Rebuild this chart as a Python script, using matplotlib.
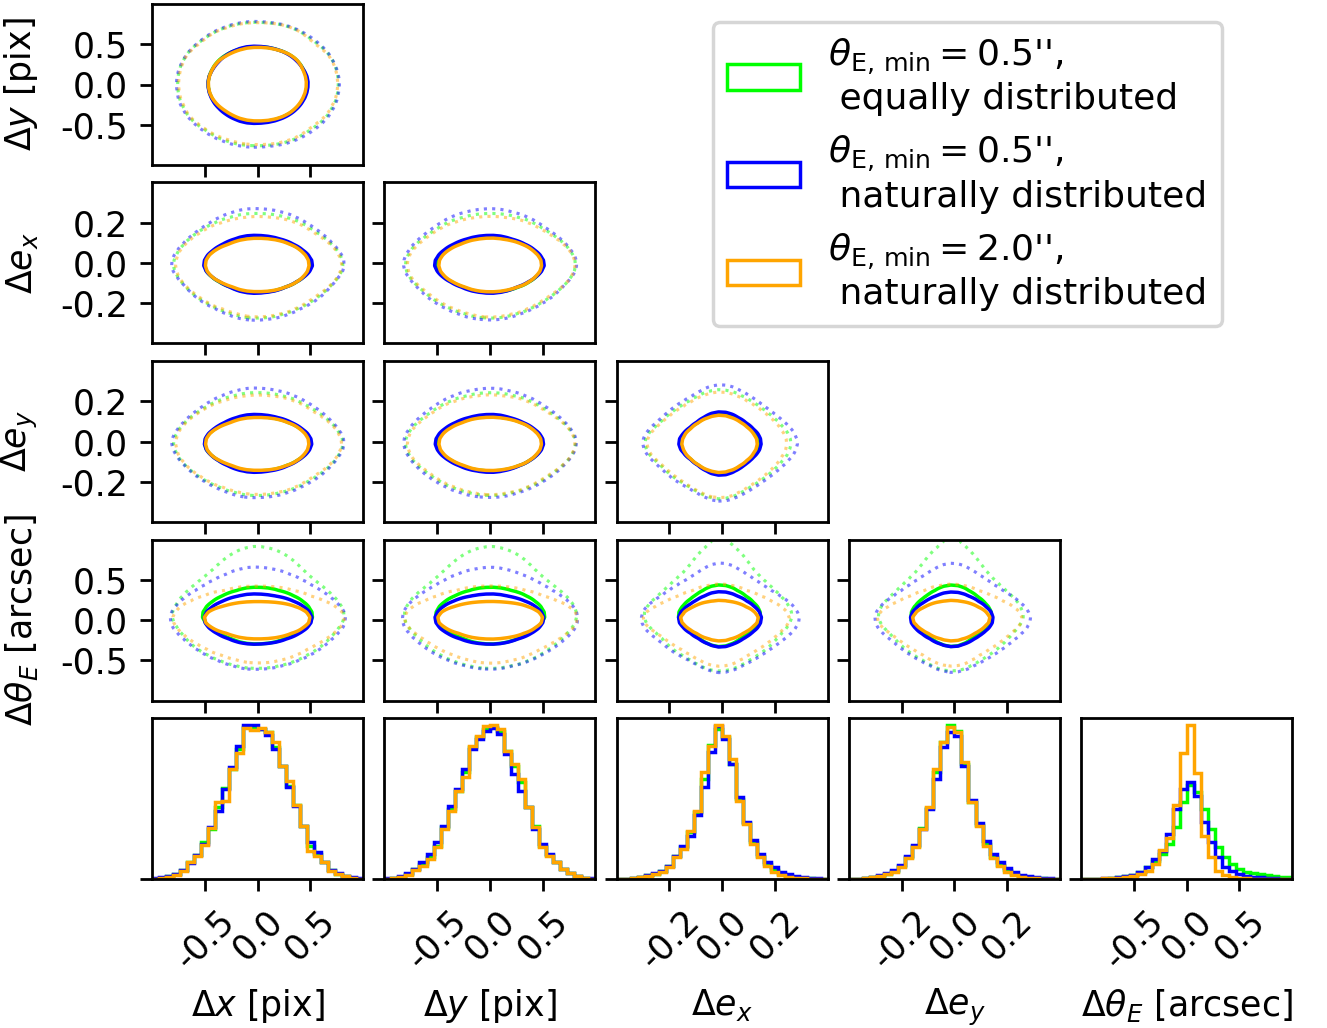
import numpy as np
import matplotlib
matplotlib.use("Agg")
import matplotlib.pyplot as plt
from matplotlib.patches import Patch

# parameters, axis ranges and ticks
labels = [r"$\Delta x$ [pix]", r"$\Delta y$ [pix]", r"$\Delta e_x$",
          r"$\Delta e_y$", r"$\Delta \theta_E$ [arcsec]"]
ranges = [(-1, 1), (-1, 1), (-0.4, 0.4), (-0.4, 0.4), (-1, 1)]
ticks = [[-0.5, 0.0, 0.5], [-0.5, 0.0, 0.5], [-0.2, 0.0, 0.2],
         [-0.2, 0.0, 0.2], [-0.5, 0.0, 0.5]]
n_bins = 30

series_names = [r"$\theta_{\rm E,\,min} = 0.5$''," + "\n equally distributed",
                r"$\theta_{\rm E,\,min} = 0.5$''," + "\n naturally distributed",
                r"$\theta_{\rm E,\,min} = 2.0$''," + "\n naturally distributed"]
series_colors = ["lime", "blue", "orange"]

# marginal histograms (30 bins over each range)
dx_green = [1, 4, 8, 14, 26, 50, 72, 110, 150, 215, 272, 330, 390, 455, 452,
            450, 440, 395, 340, 280, 222, 160, 100, 75, 50, 28, 16, 10, 4, 1]
dx_blue = [2, 5, 10, 15, 28, 48, 72, 105, 155, 205, 270, 335, 398, 462, 462,
           450, 432, 390, 340, 275, 220, 160, 110, 80, 50, 28, 18, 10, 5, 2]
dx_orange = [1, 3, 6, 12, 23, 50, 70, 102, 152, 232, 235, 330, 378, 452, 448,
             452, 442, 410, 340, 295, 222, 160, 85, 70, 50, 25, 15, 10, 3, 0]

dy_green = [1, 3, 7, 15, 30, 45, 65, 100, 155, 210, 265, 320, 395, 425, 450,
            455, 445, 385, 340, 290, 215, 160, 100, 72, 50, 30, 18, 9, 3, 1]
dy_blue = [2, 4, 8, 18, 30, 50, 75, 110, 160, 220, 270, 330, 390, 420, 445,
           452, 435, 375, 315, 265, 215, 150, 105, 75, 50, 30, 18, 10, 4, 2]
dy_orange = [1, 3, 6, 12, 28, 40, 60, 95, 150, 205, 265, 305, 400, 428, 460,
             462, 450, 385, 345, 300, 215, 155, 95, 70, 50, 30, 18, 8, 3, 1]

ex_green = [0, 1, 3, 6, 11, 16, 23, 38, 68, 95, 140, 200, 300, 402, 450,
            425, 345, 240, 168, 110, 70, 45, 28, 16, 9, 5, 3, 2, 1, 0]
ex_blue = [0, 1, 3, 7, 12, 18, 25, 40, 70, 100, 128, 192, 275, 380, 460,
           420, 345, 245, 170, 118, 75, 50, 35, 22, 15, 8, 5, 3, 2, 1]
ex_orange = [0, 1, 3, 6, 10, 15, 22, 35, 65, 90, 145, 205, 320, 400, 462,
             430, 360, 235, 165, 105, 65, 40, 22, 12, 6, 4, 2, 1, 0, 0]

ey_green = [0, 1, 2, 5, 10, 15, 23, 38, 66, 98, 152, 212, 320, 410, 462,
            445, 345, 232, 162, 105, 66, 42, 26, 15, 9, 5, 3, 2, 1, 0]
ey_blue = [0, 1, 3, 6, 11, 17, 26, 42, 70, 102, 150, 210, 300, 395, 440,
           430, 340, 238, 168, 115, 75, 50, 33, 21, 13, 8, 5, 3, 2, 1]
ey_orange = [0, 1, 2, 5, 9, 14, 22, 36, 62, 95, 150, 215, 330, 410, 455,
             440, 350, 230, 160, 100, 62, 38, 22, 12, 7, 4, 2, 1, 0, 0]

th_green = [0, 0, 1, 1, 2, 5, 8, 12, 20, 35, 55, 75, 105, 155, 230,
            280, 260, 210, 150, 95, 65, 45, 30, 22, 17, 14, 11, 9, 7, 5]
th_blue = [0, 1, 1, 2, 3, 5, 8, 13, 22, 37, 60, 85, 135, 210, 268,
           290, 247, 170, 110, 65, 37, 25, 15, 10, 7, 5, 3, 2, 1, 1]
th_orange = [0, 1, 1, 2, 3, 4, 6, 10, 16, 25, 45, 88, 122, 220, 375,
             460, 315, 128, 65, 25, 11, 6, 3, 2, 1, 1, 0, 0, 0, 0]

hists = [[dx_green, dx_blue, dx_orange],
         [dy_green, dy_blue, dy_orange],
         [ex_green, ex_blue, ex_orange],
         [ey_green, ey_blue, ey_orange],
         [th_green, th_blue, th_orange]]

contour_levels = [0.96, 0.70]


def marginal_on_grid(h, lo, hi, grid):
    hs = np.asarray(h, float)
    # light smoothing of the binned counts, like the 2d smoothing of corner plots
    for _ in range(2):
        hs = np.convolve(np.pad(hs, 1, mode="edge"), [0.25, 0.5, 0.25], mode="valid")
    edges = np.linspace(lo, hi, n_bins + 1)
    centers = 0.5 * (edges[1:] + edges[:-1])
    p = np.interp(grid, centers, hs)
    return p / p.sum()


def mass_levels(Z, fracs):
    z = np.sort(Z.ravel())[::-1]
    c = np.cumsum(z)
    c /= c[-1]
    return [z[np.searchsorted(c, f)] for f in fracs]


fig = plt.figure(figsize=(1327 / 250, 1028 / 250), dpi=250)
W, H = 1327.0, 1028.0
aw, ah = 211, 161
col_step, row_step = 232.3, 178.5
nvar = len(labels)


def make_axes(row, col):
    left = (152 + col_step * col) / W
    top = 4 + row_step * row
    return fig.add_axes([left, 1 - (top + ah) / H, aw / W, ah / H])


# 2d panels: row r shows variable r+1 against variables 0..r
for r in range(nvar - 1):
    iy = r + 1
    for j in range(r + 1):
        ax = make_axes(r, j)
        xlo, xhi = ranges[j]
        ylo, yhi = ranges[iy]
        gx = np.linspace(xlo, xhi, 200)
        gy = np.linspace(ylo, yhi, 200)
        X, Y = np.meshgrid(gx, gy)
        for k, c in enumerate(series_colors):
            px = marginal_on_grid(hists[j][k], xlo, xhi, gx)
            py = marginal_on_grid(hists[iy][k], ylo, yhi, gy)
            Z = np.outer(py, px)
            l96, l70 = mass_levels(Z, contour_levels)
            ax.contour(X, Y, Z, levels=[l96], colors=[c],
                       linestyles=":", linewidths=0.9, alpha=0.5)
            ax.contour(X, Y, Z, levels=[l70], colors=[c],
                       linestyles="-", linewidths=1.0)
        ax.set_xlim(xlo, xhi)
        ax.set_ylim(ylo, yhi)
        ax.set_xticks(ticks[j])
        ax.set_xticklabels([])
        ax.set_yticks(ticks[iy])
        if j == 0:
            ax.set_yticklabels([f"{t:.1f}" for t in ticks[iy]])
            ax.set_ylabel(labels[iy])
            ax.yaxis.set_label_coords(-0.53, 0.5)
        else:
            ax.set_yticklabels([])

# bottom row: 1d histograms
for j in range(nvar):
    ax = make_axes(nvar - 1, j)
    xlo, xhi = ranges[j]
    edges = np.linspace(xlo, xhi, n_bins + 1)
    vmax = 0
    for h, c in zip(hists[j], series_colors):
        ax.stairs(h, edges, color=c, lw=1.0)
        vmax = max(vmax, max(h))
    ax.set_xlim(xlo, xhi)
    ax.set_ylim(0, 1.045 * vmax)
    ax.set_yticks([0])
    ax.set_yticklabels([])
    ax.set_xticks(ticks[j])
    ax.set_xticklabels([f"{t:.1f}" for t in ticks[j]], rotation=45)
    ax.set_xlabel(labels[j])
    ax.xaxis.set_label_coords(0.5, -0.67)

handles = [Patch(facecolor="none", edgecolor=c, linewidth=1.0) for c in series_colors]
fig.legend(handles, series_names, loc="upper right", fontsize=10.4,
           bbox_to_anchor=(1222 / W, 1 - 22 / H), borderaxespad=0)

fig.savefig("out.png", dpi=250)
